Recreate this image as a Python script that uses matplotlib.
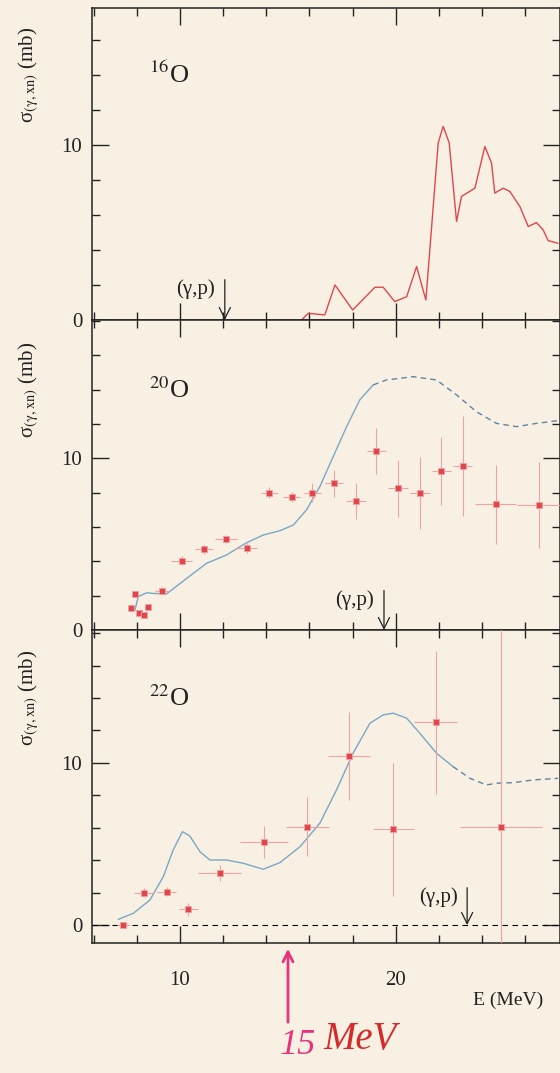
import numpy as np
import matplotlib
matplotlib.use("Agg")
import matplotlib.pyplot as plt
from matplotlib.ticker import MultipleLocator

plt.rcParams['font.family'] = ['Liberation Serif', 'DejaVu Serif']
plt.rcParams['mathtext.fontset'] = 'stix'

# 16O: photoneutron cross section (red line)
E16 = [15.63, 15.94, 16.71, 17.18, 18.0, 19.03, 19.41, 19.95, 20.5, 20.96, 21.39,
       21.96, 22.19, 22.47, 22.81, 23.04, 23.66, 24.12, 24.43, 24.58, 24.97, 25.28,
       25.74, 26.13, 26.51, 26.82, 27.05, 27.5]
s16 = [0.0, 0.38, 0.29, 2.0, 0.57, 1.87, 1.87, 1.05, 1.33, 3.05, 1.14,
       10.1, 11.05, 10.1, 5.62, 7.05, 7.52, 9.9, 8.95, 7.24, 7.52, 7.33,
       6.48, 5.33, 5.56, 5.14, 4.53, 4.38]

# 20O: measured points
E20 = [7.73, 7.92, 8.12, 8.33, 8.53, 9.15, 10.08, 11.11, 12.13, 13.09, 14.14,
       15.17, 16.13, 17.13, 18.15, 19.1, 20.1, 21.11, 22.11, 23.09, 24.63, 26.63]
s20 = [1.26, 2.1, 1.01, 0.87, 1.36, 2.29, 4.04, 4.7, 5.3, 4.79, 8.0,
       7.76, 8.0, 8.54, 7.51, 10.42, 8.25, 8.0, 9.26, 9.55, 7.32, 7.26]
dE20 = [0.1, 0.1, 0.1, 0.1, 0.1, 0.3, 0.5, 0.4, 0.5, 0.5, 0.4,
        0.4, 0.4, 0.4, 0.45, 0.45, 0.45, 0.45, 0.45, 0.45, 0.95, 1.0]
ds20 = [0.15, 0.15, 0.15, 0.15, 0.15, 0.2, 0.25, 0.25, 0.25, 0.3, 0.3,
        0.3, 0.55, 0.8, 1.05, 1.36, 1.67, 2.1, 2.0, 2.9, 2.3, 2.5]
# 20O: calculation (solid then dashed)
Ec20 = [7.92, 8.07, 8.46, 8.77, 9.38, 10.31, 11.23, 12.16, 13.09, 13.86, 14.63,
        15.25, 15.86, 16.48, 17.1, 17.72, 18.33, 18.95]
sc20 = [1.16, 1.94, 2.17, 2.13, 2.1, 3.0, 3.88, 4.37, 5.08, 5.53, 5.78,
        6.11, 6.99, 8.35, 10.1, 11.84, 13.4, 14.27]
Ed20 = [18.95, 19.57, 20.8, 21.88, 22.81, 23.73, 24.66, 25.59, 26.51, 27.51]
sd20 = [14.27, 14.56, 14.75, 14.56, 13.69, 12.71, 12.03, 11.84, 12.03, 12.19]

# 22O: measured points
E22 = [7.38, 8.33, 9.38, 10.39, 11.85, 13.89, 15.9, 17.84, 19.88, 21.85, 24.85]
s22 = [0.0, 2.0, 2.06, 0.97, 3.19, 5.12, 6.07, 10.43, 5.9, 12.51, 6.07]
dE22 = [0.3, 0.45, 0.45, 0.45, 1.0, 1.1, 1.0, 0.97, 0.95, 1.0, 1.9]
ds22 = [0.2, 0.3, 0.3, 0.4, 0.5, 1.0, 1.8, 2.7, 4.1, 4.4, 14.0]
# 22O: calculation
Ec22 = [7.15, 7.84, 8.61, 9.23, 9.69, 10.12, 10.46, 10.93, 11.39, 12.16, 12.93,
        13.86, 14.63, 15.56, 16.48, 17.25, 18.02, 18.8, 19.41, 19.88, 20.5,
        21.11, 21.88, 22.65]
sc22 = [0.35, 0.72, 1.54, 2.98, 4.63, 5.76, 5.49, 4.52, 4.01, 4.01, 3.81,
        3.44, 3.85, 4.83, 6.28, 8.33, 10.6, 12.45, 12.96, 13.07, 12.76,
        11.83, 10.6, 9.77]
Ed22 = [22.65, 23.43, 24.2, 24.66, 25.43, 26.36, 27.51]
sd22 = [9.77, 9.05, 8.64, 8.75, 8.78, 8.95, 9.05]

# (gamma,p) thresholds
thr = [12.08, 19.45, 23.3]

bg = '#f8f1e3'
red = '#e0474c'
pink = '#eba3a3'
blue = '#7aa7c7'
blue_d = '#5e84a2'
ink = '#222222'

fig = plt.figure(figsize=(5.6, 10.73), dpi=100, facecolor=bg)
H = 1073.0
L, W = 92 / 560, 1 - 92 / 560
ax1 = fig.add_axes([L, 1 - 320 / H, W, 312 / H])
ax2 = fig.add_axes([L, 1 - 630 / H, W, 310 / H], sharex=ax1)
ax3 = fig.add_axes([L, 1 - 943 / H, W, 313 / H], sharex=ax1)

ax1.plot(E16, s16, color=red, lw=1.0)
ax1.set_ylim(0, 17.8)

ax2.errorbar(E20, s20, xerr=dE20, yerr=ds20, fmt='s', ms=4, mfc=red, mec='#f0a0a0',
             mew=0.6, ecolor=pink, elinewidth=0.8, capsize=0, zorder=3)
ax2.plot(Ec20, sc20, color=blue, lw=1.0)
ax2.plot(Ed20, sd20, color=blue_d, lw=1.0, ls=(0, (4, 3)))
ax2.set_ylim(0, 18.05)

ax3.errorbar(E22, s22, xerr=dE22, yerr=ds22, fmt='s', ms=4, mfc=red, mec='#f0a0a0',
             mew=0.6, ecolor=pink, elinewidth=0.8, capsize=0, zorder=3)
ax3.plot(Ec22, sc22, color=blue, lw=1.0)
ax3.plot(Ed22, sd22, color=blue_d, lw=1.0, ls=(0, (4, 3)))
ax3.axhline(0, color='k', lw=0.8, ls=(0, (5, 4)))
ax3.set_ylim(-1.11, 18.2)

labels = [r'$^{16}$O', r'$^{20}$O', r'$^{22}$O']
for ax, lab, t in zip([ax1, ax2, ax3], labels, thr):
    ax.set_facecolor(bg)
    ax.set_xlim(5.93, 27.6)
    ax.xaxis.set_major_locator(MultipleLocator(10))
    ax.xaxis.set_minor_locator(MultipleLocator(2))
    ax.yaxis.set_major_locator(MultipleLocator(10))
    ax.yaxis.set_minor_locator(MultipleLocator(2))
    ax.tick_params(which='both', direction='in', top=True, right=True, width=1.0,
                   labelsize=15, colors=ink)
    ax.tick_params(which='major', length=12, pad=7)
    ax.tick_params(which='minor', length=6)
    ax.tick_params(axis='x', pad=20)
    for sp in ax.spines.values():
        sp.set_linewidth(1.1)
        sp.set_color(ink)
    ax.text(9.5, 14.0, lab, fontsize=19, ha='center', va='center', color=ink)
    ax.text(-0.135, 14.0, r'σ$_{\mathrm{(γ,xn)}}$ (mb)', transform=ax.get_yaxis_transform(),
            rotation=90, fontsize=15, ha='center', va='center', color=ink)
    ax.annotate('', xy=(t, 0), xytext=(t, 2.3),
                arrowprops=dict(arrowstyle='->', lw=0.9, color=ink, mutation_scale=20,
                                shrinkA=0, shrinkB=0))
    ax.text(t - 0.45, 1.75, '(γ,p)', fontsize=15, ha='right', va='center', color=ink)

for ax in [ax1, ax2]:
    plt.setp(ax.get_xticklabels(), visible=False)

fig.text(508 / 560, 1 - 1000 / H, 'E (MeV)', fontsize=14, ha='center', va='center', color=ink)

# handwritten note
fig.patches.append(matplotlib.patches.FancyArrowPatch(
    (288 / 560, 1 - 1025 / H), (288 / 560, 1 - 946 / H), transform=fig.transFigure,
    arrowstyle='->', mutation_scale=18, lw=2.0, color='#e8327c'))
fig.text(298 / 560, 1 - 1045 / H, '15', fontsize=26, ha='center', va='center',
         color='#e8327c', style='italic')
fig.text(360 / 560, 1 - 1040 / H, 'MeV', fontsize=28, ha='center', va='center',
         color='#d42a2a', style='italic')

fig.savefig('out.png', dpi=100, facecolor=bg)
